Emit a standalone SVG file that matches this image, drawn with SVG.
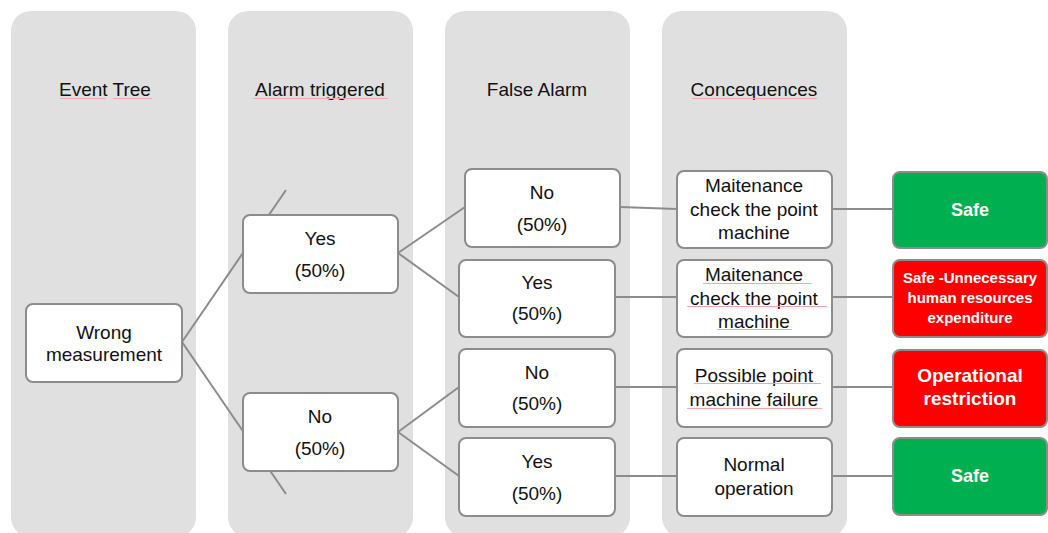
<svg xmlns="http://www.w3.org/2000/svg" width="1048" height="533" viewBox="0 0 1048 533">
<style>
.lane{fill:#E0E0E0}
.node{fill:#FFFFFF;stroke:#8C8C8C;stroke-width:2}
.green{fill:#00B050;stroke:#8C8C8C;stroke-width:2}
.red{fill:#FF0000;stroke:#8C8C8C;stroke-width:2}
.t{font-family:"Liberation Sans",Arial,sans-serif;font-size:19px;fill:#111111;text-anchor:middle}
.w{font-family:"Liberation Sans",Arial,sans-serif;font-weight:bold;fill:#FFFFFF;text-anchor:middle}
.conn line{stroke:#8C8C8C;stroke-width:2;fill:none}
.sp line{stroke:#F6A8A8;stroke-width:1}
</style>
<rect width="1048" height="533" fill="#FFFFFF"/>
<g id="lanes">
<rect class="lane" x="11" y="11" width="185" height="526" rx="20"/>
<rect class="lane" x="228" y="11" width="185" height="526" rx="20"/>
<rect class="lane" x="445" y="11" width="185" height="526" rx="20"/>
<rect class="lane" x="662" y="11" width="185" height="526" rx="20"/>
<text class="t" x="105" y="96">Event Tree</text>
<text class="t" x="320" y="96">Alarm triggered</text>
<text class="t" x="537" y="96">False Alarm</text>
<text class="t" x="754" y="96">Concequences</text>
</g>
<g id="connectors" class="conn">
<line x1="182" y1="342" x2="286" y2="190"/>
<line x1="182" y1="342" x2="286" y2="494"/>
<line x1="398" y1="253" x2="465" y2="207"/>
<line x1="398" y1="253" x2="459" y2="297"/>
<line x1="398" y1="432" x2="459" y2="387"/>
<line x1="398" y1="432" x2="459" y2="476"/>
<line x1="620" y1="207" x2="677" y2="209"/>
<line x1="615" y1="297" x2="677" y2="297"/>
<line x1="615" y1="387" x2="677" y2="387"/>
<line x1="615" y1="476" x2="677" y2="476"/>
<line x1="832" y1="209" x2="893" y2="209"/>
<line x1="832" y1="297" x2="893" y2="297"/>
<line x1="832" y1="387" x2="893" y2="387"/>
<line x1="832" y1="476" x2="893" y2="476"/>
</g>
<g id="n-root">
<rect class="node" x="26" y="304" width="156" height="78" rx="7"/>
<text class="t" x="104" y="339">Wrong</text>
<text class="t" x="104" y="361">measurement</text>
</g>
<g id="n-alarm-yes">
<rect class="node" x="243" y="215" width="155" height="78" rx="7"/>
<text class="t" x="320" y="245">Yes</text>
<text class="t" x="320" y="277">(50%)</text>
</g>
<g id="n-alarm-no">
<rect class="node" x="243" y="393" width="155" height="78" rx="7"/>
<text class="t" x="320" y="423">No</text>
<text class="t" x="320" y="455">(50%)</text>
</g>
<g id="n-fa-1">
<rect class="node" x="465" y="169" width="155" height="78" rx="7"/>
<text class="t" x="542" y="199">No</text>
<text class="t" x="542" y="231">(50%)</text>
</g>
<g id="n-fa-2">
<rect class="node" x="459" y="260" width="156" height="77" rx="7"/>
<text class="t" x="537" y="289">Yes</text>
<text class="t" x="537" y="320">(50%)</text>
</g>
<g id="n-fa-3">
<rect class="node" x="459" y="349" width="156" height="78" rx="7"/>
<text class="t" x="537" y="379">No</text>
<text class="t" x="537" y="410">(50%)</text>
</g>
<g id="n-fa-4">
<rect class="node" x="459" y="438" width="156" height="78" rx="7"/>
<text class="t" x="537" y="468">Yes</text>
<text class="t" x="537" y="500">(50%)</text>
</g>
<g id="n-c-1">
<rect class="node" x="677" y="171" width="155" height="77" rx="7"/>
<text class="t" x="754" y="192">Maitenance</text>
<text class="t" x="754" y="216">check the point</text>
<text class="t" x="754" y="239">machine</text>
</g>
<g id="n-c-2">
<rect class="node" x="677" y="260" width="155" height="77" rx="7"/>
<text class="t" x="754" y="281">Maitenance</text>
<text class="t" x="754" y="305">check the point</text>
<text class="t" x="754" y="328">machine</text>
</g>
<g id="n-c-3">
<rect class="node" x="677" y="349" width="155" height="78" rx="7"/>
<text class="t" x="754" y="382">Possible point</text>
<text class="t" x="754" y="406">machine failure</text>
</g>
<g id="n-c-4">
<rect class="node" x="677" y="438" width="155" height="78" rx="7"/>
<text class="t" x="754" y="471">Normal</text>
<text class="t" x="754" y="495">operation</text>
</g>
<g id="n-o-1">
<rect class="green" x="893" y="172" width="154" height="76" rx="7"/>
<text class="w" x="970" y="216" font-size="18">Safe</text>
</g>
<g id="n-o-2">
<rect class="red" x="893" y="260" width="154" height="77" rx="7"/>
<text class="w" x="970" y="283" font-size="15">Safe -Unnecessary</text>
<text class="w" x="970" y="303" font-size="15">human resources</text>
<text class="w" x="970" y="323" font-size="15">expenditure</text>
</g>
<g id="n-o-3">
<rect class="red" x="893" y="350" width="154" height="77" rx="7"/>
<text class="w" x="970" y="382" font-size="19">Operational</text>
<text class="w" x="970" y="405" font-size="19">restriction</text>
</g>
<g id="n-o-4">
<rect class="green" x="893" y="438" width="154" height="77" rx="7"/>
<text class="w" x="970" y="482" font-size="18">Safe</text>
</g>
<g class="sp">
<line x1="60" y1="98.5" x2="106" y2="98.5"/>
<line x1="113" y1="98.5" x2="152" y2="98.5"/>
<line x1="253" y1="98.5" x2="388" y2="98.5"/>
<line x1="692" y1="98.5" x2="817" y2="98.5"/>
<line x1="703" y1="283.5" x2="812" y2="283.5"/>
<line x1="687" y1="306.5" x2="827" y2="306.5"/>
<line x1="717" y1="329.5" x2="792" y2="329.5"/>
<line x1="694" y1="383.5" x2="821" y2="383.5"/>
<line x1="687" y1="408.5" x2="822" y2="408.5"/>
</g>
</svg>
